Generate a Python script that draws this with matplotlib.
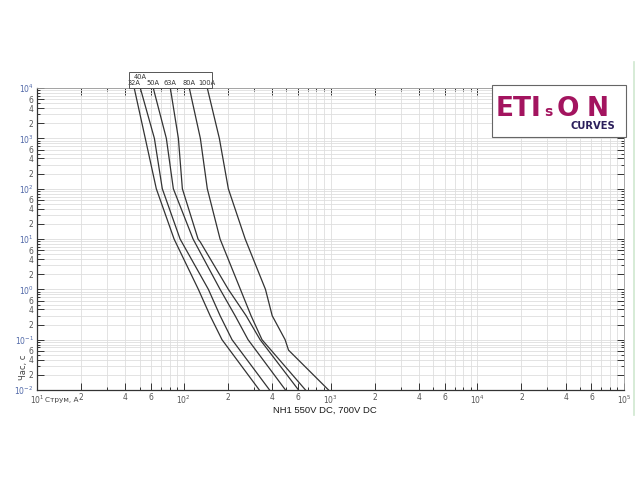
import matplotlib
matplotlib.use("Agg")
import matplotlib.pyplot as plt
from matplotlib.patches import Rectangle
from matplotlib.ticker import NullFormatter

# time-current characteristics, NH1 550V DC / 700V DC
t = [1e4, 1e3, 1e2, 1e1, 1, 0.3, 0.1, 0.01]
i_32 = [45.9, 54.6, 64.9, 85.8, 125.6, 151, 182, 327]
i_40 = [50.5, 63.0, 71.3, 94.3, 147, 176.6, 213, 384]
i_50 = [61.9, 76.0, 84.8, 115.6, 176.6, 223.5, 274, 493]
t_63 = [1e4, 1e3, 1e2, 1e1, 8.7, 1, 0.3, 0.1, 0.01]
i_63 = [80.9, 91.8, 97.7, 125, 129.6, 201, 265.6, 331, 605]
i_80 = [109, 129.6, 144.5, 176.6, 243, 287, 341, 675]
t_100 = [1e4, 1e3, 1e2, 1e1, 1, 0.3, 0.1, 0.062, 0.01]
i_100 = [144.5, 174.6, 201, 262, 360, 400, 490, 517, 969]

curves = [("32A", i_32, t), ("40A", i_40, t), ("50A", i_50, t),
          ("63A", i_63, t_63), ("80A", i_80, t), ("100A", i_100, t_100)]

fig = plt.figure(figsize=(6.4, 4.8), dpi=100)
ax = fig.add_axes([0.058, 0.1875, 0.917, 0.629])

for name, ii, tt in curves:
    ax.plot(ii, tt, color="#333333", lw=0.9, zorder=3)

ax.set_xscale("log")
ax.set_yscale("log")
ax.set_xlim(10, 1e5)
ax.set_ylim(0.01, 1e4)

# ticks: long at 1,2,4,6 ; short at the rest
xmaj = [m * 10 ** e for e in range(1, 5) for m in (1, 2, 4, 6)] + [1e5]
xmin = [m * 10 ** e for e in range(1, 5) for m in (3, 5, 7, 8, 9)]
ymaj = [m * 10.0 ** e for e in range(-2, 4) for m in (1, 2, 4, 6)] + [1e4]
ymin = [m * 10.0 ** e for e in range(-2, 4) for m in (3, 5, 7, 8, 9)]


def lab(v):
    import math
    e = int(math.floor(math.log10(v) + 1e-9))
    m = round(v / 10 ** e)
    return "$10^{%d}$" % e if m == 1 else str(m)


ax.set_xticks(xmaj, labels=[lab(v) for v in xmaj])
ax.set_xticks(xmin, minor=True)
ax.set_yticks(ymaj, labels=[lab(v) for v in ymaj])
ax.set_yticks(ymin, minor=True)
ax.xaxis.set_minor_formatter(NullFormatter())
ax.yaxis.set_minor_formatter(NullFormatter())

ax.tick_params(which="both", direction="in", top=True, right=True,
               labelsize=5.5, labelcolor="#555555", color="#333333", width=0.7)
ax.tick_params(which="major", length=5, pad=2.5)
ax.tick_params(which="minor", length=2.5)
for tl in ax.get_yticklabels():
    if tl.get_text().startswith("$"):
        tl.set_color("#5068a8")

ax.grid(True, which="both", color="#dedede", lw=0.6, zorder=0)
for s in ("left", "bottom"):
    ax.spines[s].set_color("#333333")
    ax.spines[s].set_linewidth(0.9)
for s in ("top", "right"):
    ax.spines[s].set_color("#999999")
    ax.spines[s].set_linewidth(0.6)

# rating labels above the curves
fig.patches.append(Rectangle((0.2015, 0.8167), 0.13, 0.0333, transform=fig.transFigure,
                             fill=False, ec="#555555", lw=0.7))
for name, ii, tt in curves:
    yy = 1.028 if name == "40A" else 1.006
    ax.text(ii[0], yy, name, transform=ax.get_xaxis_transform(), ha="center",
            va="bottom", fontsize=4.8, color="#333333", clip_on=False)

# axis captions
fig.text(0.071, 0.1665, "Струм, А", fontsize=5.3, color="#444444", ha="left", va="center")
fig.text(0.036, 0.235, "Час, с", fontsize=6, color="#444444", rotation=90,
         ha="center", va="center")
fig.text(0.508, 0.146, "NH1 550V DC, 700V DC", fontsize=6.8, color="#1a1a1a",
         ha="center", va="center", family="Liberation Sans")

# logo box
fig.patches.append(Rectangle((0.769, 0.715), 0.209, 0.108, transform=fig.transFigure,
                             fc="white", ec="#666666", lw=0.8, zorder=5))
logo = dict(fontweight="bold", color="#a3145f", ha="left", va="baseline", zorder=6)
fig.text(0.775, 0.758, "ETI", fontsize=19, **logo)
fig.text(0.851, 0.758, "s", fontsize=10, **logo)
fig.text(0.869, 0.758, "O", fontsize=19, **logo)
fig.text(0.917, 0.758, "N", fontsize=19, **logo)
fig.text(0.962, 0.7365, "CURVES", fontsize=7.2, fontweight="bold", color="#2b1f5c",
         ha="right", va="center", zorder=6)

# thin frame line at the right edge of the picture
fig.add_artist(plt.Line2D([0.99, 0.99], [0.135, 0.87], transform=fig.transFigure,
                          color="#cfe8cf", lw=1.2))

fig.savefig("out.png", dpi=100)
